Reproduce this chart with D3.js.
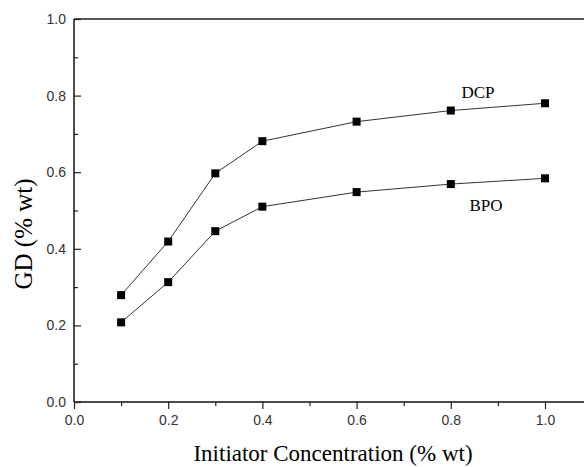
<!DOCTYPE html>
<html>
<head>
<meta charset="utf-8">
<script src="https://cdn.jsdelivr.net/npm/d3@7/dist/d3.min.js"></script>
<style>
body{margin:0;background:#fff;}
svg{display:block;}
</style>
</head>
<body>
<svg id="c" width="584" height="467"></svg>
<script>
const concentration = [0.1, 0.2, 0.3, 0.4, 0.6, 0.8, 1.0];
const dcp = [0.279, 0.419, 0.597, 0.681, 0.732, 0.761, 0.780];
const bpo = [0.208, 0.313, 0.446, 0.510, 0.548, 0.569, 0.584];
const xTicks = [0.0, 0.2, 0.4, 0.6, 0.8, 1.0];
const xMinor = [0.1, 0.3, 0.5, 0.7, 0.9, 1.1];
const yTicks = [0.0, 0.2, 0.4, 0.6, 0.8, 1.0];
const yMinor = [0.1, 0.3, 0.5, 0.7, 0.9];

const svg = d3.select("#c");
const x = d3.scaleLinear().domain([0, 1]).range([74, 545]);
const y = d3.scaleLinear().domain([0, 1]).range([402, 19]);

// frame lines
svg.append("line").attr("x1", x(0)).attr("x2", 584).attr("y1", y(1)).attr("y2", y(1))
  .attr("stroke", "#222").attr("stroke-width", 1.3);

// x axis (outward ticks)
const xAx = svg.append("g").attr("transform", `translate(0,${y(0)})`)
  .call(d3.axisBottom(x).tickValues(xTicks).tickSize(7).tickPadding(6).tickFormat(d3.format(".1f")));
xAx.select(".domain").remove();
svg.append("line").attr("x1", x(0)).attr("x2", 584).attr("y1", y(0)).attr("y2", y(0))
  .attr("stroke", "#111").attr("stroke-width", 1.5);
svg.append("g").attr("transform", `translate(0,${y(0)})`)
  .call(d3.axisBottom(x).tickValues(xMinor).tickSize(4).tickFormat(""))
  .call(g => g.select(".domain").remove());

// y axis (inward ticks)
const yAx = svg.append("g").attr("transform", `translate(${x(0)},0)`)
  .call(d3.axisRight(y).tickValues(yTicks).tickSize(7).tickFormat(d3.format(".1f")));
yAx.select(".domain").remove();
yAx.selectAll("text").attr("x", -8).attr("text-anchor", "end");
svg.append("g").attr("transform", `translate(${x(0)},0)`)
  .call(d3.axisRight(y).tickValues(yMinor).tickSize(4).tickFormat(""))
  .call(g => g.select(".domain").remove());
svg.append("line").attr("x1", x(0)).attr("x2", x(0)).attr("y1", y(1)).attr("y2", y(0))
  .attr("stroke", "#111").attr("stroke-width", 1.5);

svg.selectAll(".tick line").attr("stroke", "#222").attr("stroke-width", 1.2);
svg.selectAll(".tick text").attr("font-family", "Liberation Sans, Arial, sans-serif")
  .attr("font-size", 14).attr("fill", "#333");

// series
const line = d3.line().x((d, i) => x(concentration[i])).y(d => y(d));
[dcp, bpo].forEach(s => {
  svg.append("path").attr("d", line(s)).attr("fill", "none")
    .attr("stroke", "#333").attr("stroke-width", 1);
  svg.selectAll(null).data(s).enter().append("rect")
    .attr("x", (d, i) => x(concentration[i]) - 4)
    .attr("y", d => y(d) - 4)
    .attr("width", 8).attr("height", 8).attr("fill", "#000");
});

// series labels
const serif = "Liberation Serif, Times New Roman, serif";
svg.append("text").attr("x", 478).attr("y", 98).attr("text-anchor", "middle")
  .attr("font-family", serif).attr("font-size", 17).text("DCP");
svg.append("text").attr("x", 486).attr("y", 211).attr("text-anchor", "middle")
  .attr("font-family", serif).attr("font-size", 17).text("BPO");

// axis titles
svg.append("text").attr("x", 333).attr("y", 461).attr("text-anchor", "middle")
  .attr("font-family", serif).attr("font-size", 23).text("Initiator Concentration (% wt)");
svg.append("text").attr("transform", "translate(32,234) rotate(-90)").attr("text-anchor", "middle")
  .attr("font-family", serif).attr("font-size", 25).text("GD (% wt)");
</script>
</body>
</html>
